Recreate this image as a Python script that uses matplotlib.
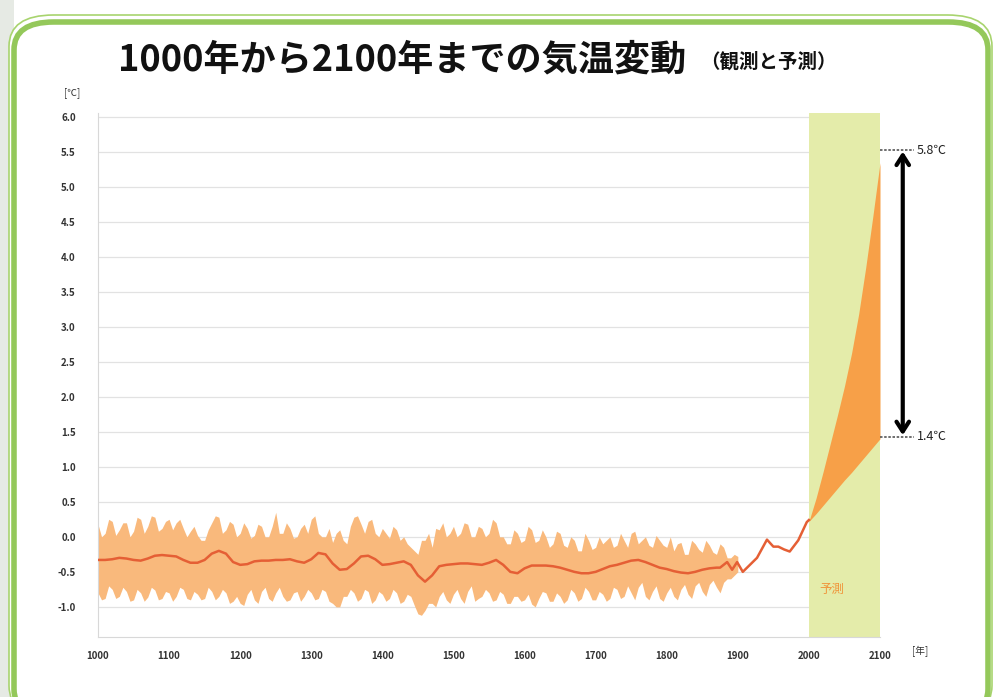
import matplotlib.pyplot as plt
import numpy as np
from matplotlib.patches import FancyBboxPatch, Rectangle

plt.rcParams['font.family'] = ['Noto Sans CJK JP', 'DejaVu Sans']

# observed band (every 5 years, 1000-1900)
band_years = list(range(1000, 1901, 5))
band_upper = [0.18, 0.00, 0.05, 0.25, 0.22, 0.02, 0.10, 0.20, 0.20, 0.00,
              0.08, 0.28, 0.25, 0.05, 0.15, 0.30, 0.28, 0.08, 0.12, 0.22,
              0.25, 0.10, 0.20, 0.25, 0.12, 0.00, 0.08, 0.15, 0.02, -0.05,
              -0.05, 0.10, 0.20, 0.30, 0.28, 0.05, 0.10, 0.22, 0.18, 0.00,
              0.05, 0.20, 0.12, -0.02, 0.02, 0.18, 0.15, 0.00, 0.00, 0.15,
              0.35, 0.05, 0.05, 0.20, 0.12, -0.02, 0.00, 0.12, 0.18, 0.05,
              0.25, 0.30, 0.05, 0.00, 0.00, 0.12, -0.08, 0.05, 0.10, -0.05,
              -0.10, 0.15, 0.28, 0.30, 0.18, 0.05, 0.22, 0.25, 0.05, 0.00,
              0.12, 0.05, -0.02, 0.15, 0.10, -0.05, 0.00, -0.10, -0.15, -0.20,
              -0.25, -0.05, -0.05, 0.05, -0.15, 0.12, 0.10, 0.20, 0.00, 0.05,
              0.15, 0.00, 0.05, 0.20, 0.18, 0.00, 0.00, 0.15, 0.12, 0.00,
              0.05, 0.25, 0.20, 0.00, 0.00, -0.10, -0.10, 0.10, 0.05, -0.08,
              -0.05, 0.15, 0.10, -0.08, -0.05, 0.10, 0.00, -0.15, -0.10, 0.08,
              0.05, -0.12, -0.15, 0.00, -0.05, -0.20, -0.20, 0.05, -0.05, -0.18,
              -0.15, 0.00, -0.10, -0.05, 0.00, -0.15, -0.12, 0.05, -0.05, -0.15,
              0.05, 0.08, -0.10, -0.05, 0.00, -0.12, -0.15, 0.02, -0.05, -0.12,
              -0.15, 0.00, -0.20, -0.10, -0.08, -0.25, -0.25, -0.05, -0.10, -0.18,
              -0.22, -0.05, -0.12, -0.22, -0.25, -0.10, -0.15, -0.30, -0.30, -0.25,
              -0.28]
band_lower = [-0.80, -0.90, -0.88, -0.70, -0.75, -0.88, -0.85, -0.72, -0.78, -0.92,
              -0.90, -0.75, -0.80, -0.92, -0.86, -0.72, -0.76, -0.90, -0.88, -0.78,
              -0.80, -0.92, -0.85, -0.72, -0.75, -0.88, -0.90, -0.78, -0.82, -0.90,
              -0.88, -0.72, -0.78, -0.90, -0.85, -0.75, -0.80, -0.95, -0.92, -0.85,
              -0.95, -0.98, -0.82, -0.75, -0.90, -0.95, -0.78, -0.72, -0.88, -0.92,
              -0.80, -0.72, -0.85, -0.92, -0.90, -0.80, -0.78, -0.92, -0.85, -0.75,
              -0.80, -0.90, -0.88, -0.75, -0.78, -0.92, -0.95, -1.00, -1.00, -0.85,
              -0.85, -0.75, -0.80, -0.92, -0.88, -0.75, -0.78, -0.95, -0.90, -0.78,
              -0.82, -0.92, -0.88, -0.75, -0.80, -0.95, -0.92, -0.82, -0.85, -0.98,
              -1.10, -1.12, -1.05, -0.95, -0.95, -1.00, -0.85, -0.78, -0.90, -0.95,
              -0.82, -0.75, -0.88, -0.95, -0.78, -0.70, -0.92, -0.88, -0.85, -0.75,
              -0.80, -0.92, -0.90, -0.78, -0.82, -0.95, -0.95, -0.85, -0.85, -0.92,
              -0.90, -0.82, -0.96, -1.00, -0.88, -0.78, -0.80, -0.92, -0.92, -0.80,
              -0.85, -0.95, -0.90, -0.75, -0.80, -0.92, -0.88, -0.72, -0.78, -0.90,
              -0.90, -0.78, -0.82, -0.92, -0.88, -0.72, -0.75, -0.88, -0.85, -0.70,
              -0.80, -0.90, -0.72, -0.65, -0.85, -0.90, -0.78, -0.70, -0.88, -0.92,
              -0.80, -0.72, -0.85, -0.90, -0.75, -0.68, -0.82, -0.88, -0.70, -0.65,
              -0.78, -0.85, -0.68, -0.62, -0.72, -0.80, -0.65, -0.60, -0.60, -0.55,
              -0.50]

# smoothed observed temperature
mean_years = [1000, 1010, 1020, 1030, 1040, 1050, 1060, 1070, 1080, 1090,
              1100, 1110, 1120, 1130, 1140, 1150, 1160, 1170, 1180, 1190,
              1200, 1210, 1220, 1230, 1240, 1250, 1260, 1270, 1280, 1290,
              1300, 1310, 1320, 1330, 1340, 1350, 1360, 1370, 1380, 1390,
              1400, 1410, 1420, 1430, 1440, 1450, 1460, 1470, 1480, 1490,
              1500, 1510, 1520, 1530, 1540, 1550, 1560, 1570, 1580, 1590,
              1600, 1610, 1620, 1630, 1640, 1650, 1660, 1670, 1680, 1690,
              1700, 1710, 1720, 1730, 1740, 1750, 1760, 1770, 1780, 1790,
              1800, 1810, 1820, 1830, 1840, 1850, 1860, 1870, 1875, 1885,
              1892, 1899, 1907, 1915, 1927, 1941, 1950, 1957, 1965, 1973,
              1985, 1997, 2000]
mean_vals = [-0.33, -0.33, -0.32, -0.30, -0.31, -0.33, -0.34, -0.31, -0.27, -0.26,
             -0.27, -0.28, -0.33, -0.37, -0.37, -0.33, -0.24, -0.20, -0.24, -0.36,
             -0.40, -0.39, -0.35, -0.34, -0.34, -0.33, -0.33, -0.32, -0.35, -0.37,
             -0.32, -0.23, -0.25, -0.38, -0.47, -0.46, -0.38, -0.28, -0.27, -0.32,
             -0.40, -0.39, -0.37, -0.35, -0.40, -0.55, -0.64, -0.55, -0.42, -0.40,
             -0.39, -0.38, -0.38, -0.39, -0.40, -0.37, -0.33, -0.40, -0.50, -0.52,
             -0.45, -0.41, -0.41, -0.41, -0.42, -0.44, -0.47, -0.50, -0.52, -0.52,
             -0.50, -0.46, -0.42, -0.40, -0.37, -0.34, -0.33, -0.36, -0.40, -0.44,
             -0.46, -0.49, -0.51, -0.52, -0.50, -0.47, -0.45, -0.44, -0.44, -0.36,
             -0.47, -0.36, -0.50, -0.42, -0.30, -0.04, -0.14, -0.14, -0.18, -0.21,
             -0.05, 0.21, 0.24]

# projection 2000-2100
proj_years = [2000, 2010, 2020, 2030, 2040, 2050, 2060, 2070, 2080, 2090, 2100]
proj_upper = [0.22, 0.55, 0.93, 1.33, 1.73, 2.15, 2.62, 3.18, 3.85, 4.58, 5.34]
proj_lower = [0.22, 0.33, 0.45, 0.57, 0.69, 0.81, 0.92, 1.04, 1.16, 1.28, 1.40]

x_ticks = list(range(1000, 2101, 100))
y_ticks = [-1.0, -0.5, 0.0, 0.5, 1.0, 1.5, 2.0, 2.5, 3.0, 3.5, 4.0, 4.5, 5.0, 5.5, 6.0]
range_labels = ['5.8℃', '1.4℃']
range_vals = [5.52, 1.43]

W, H = 994, 697
fig = plt.figure(figsize=(W / 100, H / 100), dpi=100)
fig.patch.set_facecolor('white')

# grey strip on the left edge and the green rounded frame
fig.add_artist(Rectangle((0, 0), 14 / W, 1, transform=fig.transFigure,
                         facecolor='#e6eae4', edgecolor='none', zorder=0))
fig.add_artist(FancyBboxPatch((9 / W, -20 / H), 983 / W, (H - 15 + 20) / H,
                              boxstyle='round,pad=0,rounding_size=0.045',
                              transform=fig.transFigure, facecolor='white',
                              edgecolor='#a8d46e', lw=1.2, zorder=0.5))
fig.add_artist(FancyBboxPatch((14 / W, -20 / H), 974 / W, (H - 22 + 20) / H,
                              boxstyle='round,pad=0,rounding_size=0.04',
                              transform=fig.transFigure, facecolor='white',
                              edgecolor='#94c85a', lw=4, zorder=0.6))

ax = fig.add_axes([98 / W, 1 - 637 / H, 782 / W, 524 / H])
ax.set_zorder(2)
ax.set_facecolor('none')
ax.set_xlim(1000, 2100)
ax.set_ylim(-1.43, 6.05)

for v in y_ticks:
    ax.axhline(v, color='#e2e2e2', lw=0.9, zorder=0.5)
ax.axvspan(2000, 2100, color='#e4ecaa', lw=0, zorder=0.7)

ax.fill_between(band_years, band_lower, band_upper, color='#f9b97c', lw=0, zorder=1)
ax.plot(mean_years, mean_vals, color='#e55f35', lw=1.8, zorder=3)
ax.fill_between(proj_years, proj_lower, proj_upper, color='#f7a048', lw=0, zorder=2)

ax.text(2032, -0.75, '予測', color='#f0953a', fontsize=9, ha='center', va='center')

# range annotation
for lab, v in zip(range_labels, range_vals):
    ax.plot([2100, 2148], [v, v], color='#555555', lw=1.2, ls=(0, (1.5, 1)),
            clip_on=False, zorder=4)
    ax.text(2152, v, lab, fontsize=9, va='center', ha='left', color='#222222')
ax.annotate('', xy=(2132, range_vals[0] + 0.02), xytext=(2132, range_vals[1] - 0.02),
            arrowprops=dict(arrowstyle='<->,head_length=0.7,head_width=0.45',
                            color='black', lw=3), annotation_clip=False)

ax.set_xticks(x_ticks)
ax.set_yticks(y_ticks)
ax.set_xticklabels([str(x) for x in x_ticks], fontsize=7, fontweight='bold',
                   color='#333333')
ax.set_yticklabels(['%.1f' % y for y in y_ticks], fontsize=7, fontweight='bold',
                   color='#333333')
ax.tick_params(length=0)
ax.tick_params(axis='x', pad=10)
ax.tick_params(axis='y', pad=16)
for s in ['top', 'right']:
    ax.spines[s].set_visible(False)
for s in ['left', 'bottom']:
    ax.spines[s].set_color('#d8d8d8')

t1 = fig.text(64 / W, 1 - 93 / H, '[℃]', fontsize=7, color='#333333', va='center')
t2 = fig.text(912 / W, 1 - 651 / H, '[年]', fontsize=7, color='#333333', va='center')
t3 = fig.text(118 / W, 1 - 60 / H, '1000年から2100年までの気温変動', fontsize=26,
              fontweight='bold', color='#111111', va='center', ha='left')
t4 = fig.text(700 / W, 1 - 62 / H, '（観測と予測）', fontsize=14,
              fontweight='bold', color='#111111', va='center', ha='left')
for t in (t1, t2, t3, t4):
    t.set_zorder(3)

fig.savefig('out.png', dpi=100)
